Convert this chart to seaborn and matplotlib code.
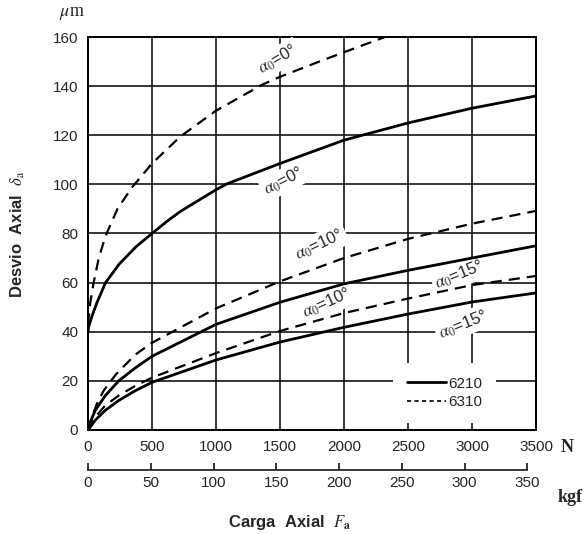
import matplotlib
matplotlib.use('Agg')
import matplotlib.pyplot as plt
from matplotlib.lines import Line2D
import seaborn as sns

# axial load (N) vs axial deflection (um)
load_6210_0 = [0, 5, 32, 71, 137, 243, 375, 500, 613, 722, 1000, 1085,
               1500, 2000, 2500, 3000, 3500]
defl_6210_0 = [40, 42, 46.5, 52, 60, 67.5, 74.6, 80, 84.8, 89, 97.8, 100.2,
               108.5, 118, 125, 131, 136]

load_6310_0 = [0, 5, 18, 44, 84, 137, 230, 340, 500, 722, 1000, 1358,
               1500, 1837, 2000, 2320]
defl_6310_0 = [43, 45.5, 52, 60, 70, 79, 90, 98.5, 108.5, 119.5, 130,
               140.5, 143.8, 150.6, 153.8, 160]

load_6210_10 = [0, 18, 57, 135, 240, 370, 500, 1000, 1500, 2000, 2500,
                3000, 3500]
defl_6210_10 = [0, 3.3, 8, 14, 20, 25.3, 30, 43, 52, 59.5, 65, 70, 75]

load_6310_10 = [0, 31, 70, 122, 219, 370, 500, 1000, 1500, 2000, 2500,
                3000, 3500]
defl_6310_10 = [0, 5.3, 10.7, 16, 22.7, 30.7, 35.5, 49.5, 60.5, 70, 77.8,
                84, 89.2]

load_6210_15 = [0, 57, 135, 240, 370, 500, 1000, 1500, 2000, 2500, 3000,
                3500]
defl_6210_15 = [0, 4, 8, 12, 16, 19.4, 28.5, 35.8, 41.8, 47.2, 52.1, 55.8]

load_6310_15 = [0, 57, 135, 240, 370, 500, 1000, 1500, 2000, 2500, 3000,
                3500]
defl_6310_15 = [0, 5.3, 10, 14, 18, 21.3, 31.3, 40.3, 47.6, 53.5, 59, 62.7]

n_ticks = list(range(0, 3501, 500))
um_ticks = list(range(0, 161, 20))
kgf_ticks = list(range(0, 351, 50))

# curve label: angle, x, y, rotation
angle_labels = [
    ('0', 1480, 151, 30),
    ('0', 1530, 101.5, 27),
    ('10', 1810, 75.5, 25),
    ('10', 1865, 51.5, 24),
    ('15', 2905, 63, 22),
    ('15', 2930, 43, 22),
]

sns.set_style('white')
plt.rcParams['font.family'] = ['Liberation Sans', 'DejaVu Sans']
plt.rcParams['mathtext.fontset'] = 'stix'

fig = plt.figure(figsize=(5.84, 5.34), dpi=100)
ax = fig.add_axes([0.1507, 0.1948, 0.7671, 0.7359])

solid = dict(color='black', linewidth=2.0, zorder=4)
dashed = dict(color='black', linewidth=1.6, dashes=(5, 3.2), zorder=4)

sns.lineplot(x=load_6210_0, y=defl_6210_0, ax=ax, **solid)
sns.lineplot(x=load_6310_0, y=defl_6310_0, ax=ax, **dashed)
sns.lineplot(x=load_6210_10, y=defl_6210_10, ax=ax, **solid)
sns.lineplot(x=load_6310_10, y=defl_6310_10, ax=ax, **dashed)
sns.lineplot(x=load_6210_15, y=defl_6210_15, ax=ax, **solid)
sns.lineplot(x=load_6310_15, y=defl_6310_15, ax=ax, **dashed)

ax.set_xlim(0, 3500)
ax.set_ylim(0, 160)
ax.set_xticks(n_ticks)
ax.set_yticks(um_ticks)
ax.grid(True, color='black', linewidth=1.1)
ax.set_axisbelow(True)
ax.tick_params(length=0, labelsize=11, pad=7)
for s in ax.spines.values():
    s.set_color('black')
    s.set_linewidth(1.4)

for ang, x, y, rot in angle_labels:
    ax.text(x, y, r'$\alpha_0$=' + ang + '°', fontsize=12, rotation=rot,
            ha='center', va='center', rotation_mode='anchor', zorder=3,
            bbox=dict(facecolor='white', edgecolor='none', pad=2))

handles = [Line2D([], [], color='black', linewidth=2.0),
           Line2D([], [], color='black', linewidth=1.2, dashes=(2.5, 2))]
leg = ax.legend(handles, ['6210', '6310'], loc='center',
                bbox_to_anchor=(0.795, 0.094), fontsize=11, frameon=True,
                fancybox=False, edgecolor='none', facecolor='white',
                framealpha=1, handlelength=2.6, handletextpad=0.1,
                labelspacing=0.3, borderpad=0.9)
leg.set_zorder(3)

sec = ax.secondary_xaxis(-0.102, functions=(lambda n: n / 9.80665,
                                            lambda k: k * 9.80665))
sec.set_xticks(kgf_ticks)
sec.tick_params(direction='in', length=5, width=1.3, labelsize=11, pad=4)
sec.spines['bottom'].set_bounds(0, 350)
sec.spines['bottom'].set_linewidth(1.3)

fig.text(72 / 584, 1 - 14 / 534, r'$\mu$m', fontsize=13, ha='center',
         va='center', family='Liberation Serif')
fig.text(567 / 584, 1 - 448 / 534, 'N', fontsize=13, ha='center',
         va='center', family='Liberation Serif', weight='bold')
fig.text(570 / 584, 1 - 497 / 534, 'kgf', fontsize=13, ha='center',
         va='center', family='Liberation Serif', weight='bold')
fig.text(18 / 584, 1 - 234 / 534, r'Desvio  Axial  $\delta_{\mathrm{a}}$',
         fontsize=12, weight='bold', rotation=90, ha='center', va='center')
fig.text(290 / 584, 1 - 522 / 534, r'Carga  Axial  $F_{\mathbf{a}}$',
         fontsize=12, weight='bold', ha='center', va='center')

fig.savefig('out.png', dpi=100)
